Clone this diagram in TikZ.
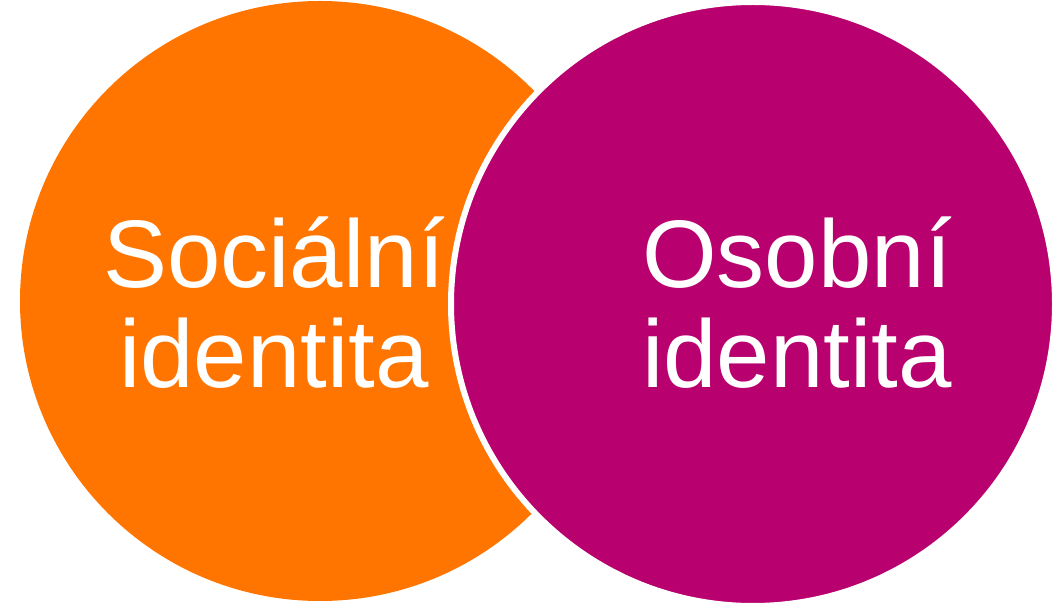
\documentclass[tikz,border=0pt]{standalone}
\usepackage{fontspec}
\setmainfont{Liberation Sans}
\definecolor{socorange}{HTML}{FF7500}
\definecolor{osbmagenta}{HTML}{B8006E}
\begin{document}
\begin{tikzpicture}[x=1pt,y=1pt,
    idlabel/.style={text=white, align=center, inner sep=0pt, font=\fontsize{96}{100}\selectfont}]
    \useasboundingbox (0,0) rectangle (1061,603);

    % Circles
    \fill[socorange] (320,302) circle (300);
    \filldraw[fill=osbmagenta, draw=white, line width=6pt] (753,299) circle (302);

    % Labels
    \node[idlabel] (social) at (274,300) {Sociální\\identita};
    \node[idlabel] (personal) at (797,300) {Osobní\\identita};
\end{tikzpicture}
\end{document}
